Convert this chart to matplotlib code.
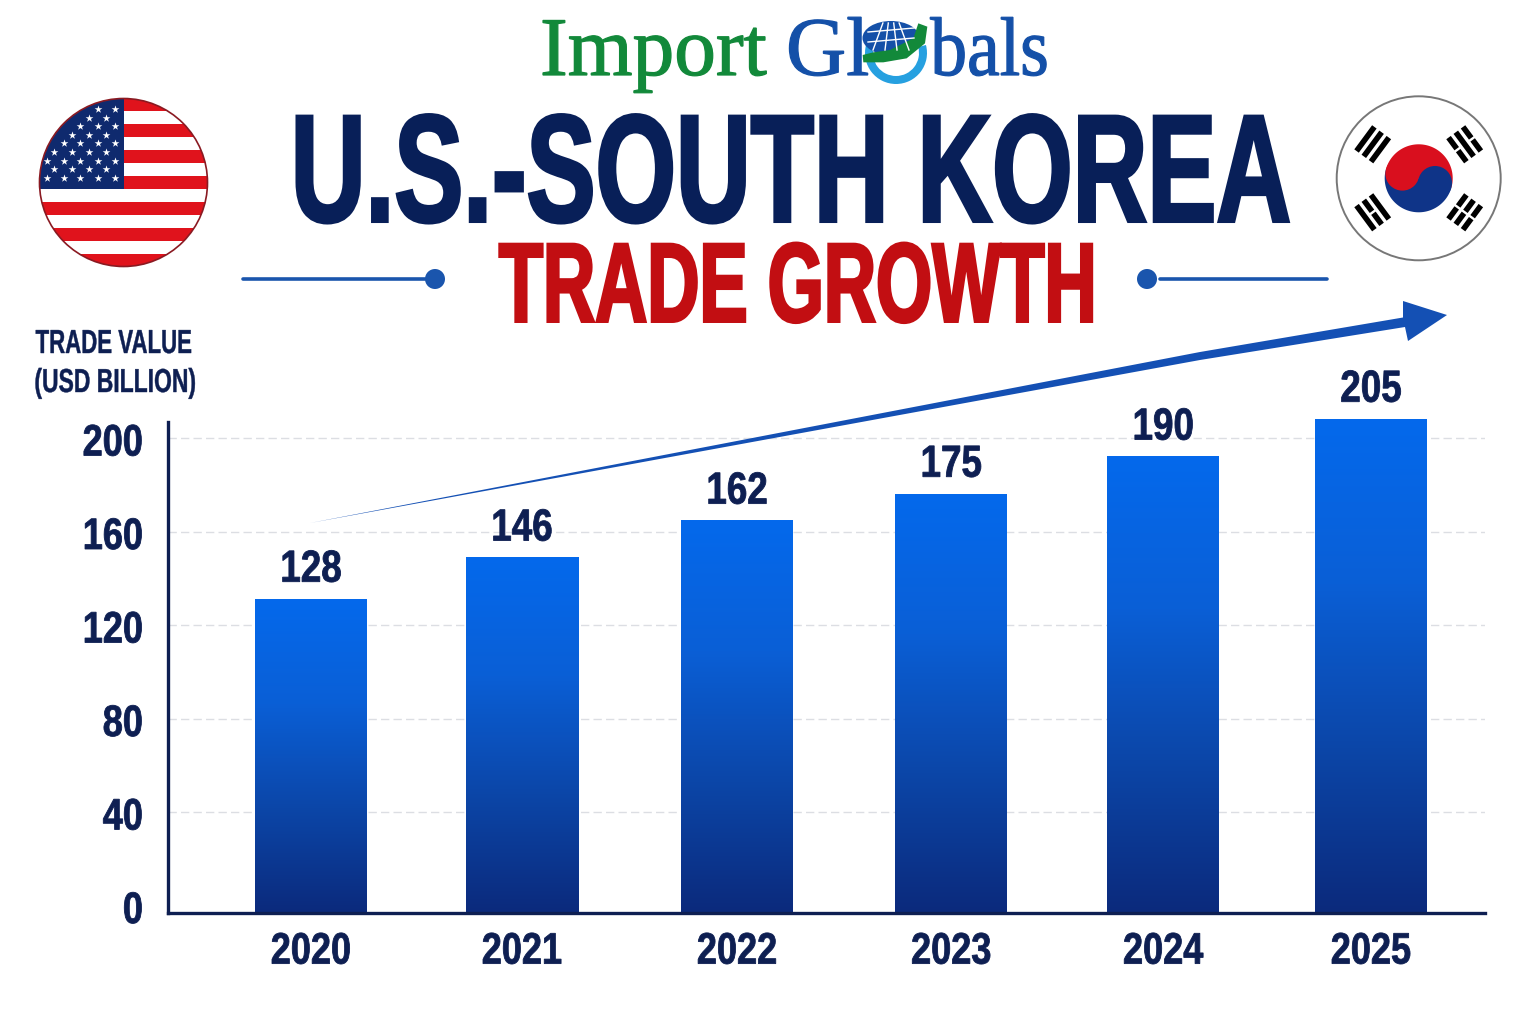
import numpy as np
import matplotlib
matplotlib.use("Agg")
import matplotlib.pyplot as plt
from matplotlib.patches import Circle, Ellipse, Polygon, Rectangle, Wedge
from matplotlib.patheffects import AbstractPathEffect
from matplotlib.transforms import Affine2D, ScaledTranslation
from matplotlib.colors import LinearSegmentedColormap

# ---- data ----
years = ["2020", "2021", "2022", "2023", "2024", "2025"]
bar_heights = [131.1, 148.7, 164.5, 176, 191.9, 208.1]     # bar tops as read against the y axis
value_labels = ["128", "146", "162", "175", "190", "205"]  # printed labels
y_ticks = [0, 40, 80, 120, 160, 200]

# ---- style ----
NAVY = "#0e1f52"
TITLE = "#081f58"
RED = "#c20e12"
LINE = "#1a55ad"
COND = ["Liberation Sans"]
W, H = 1537, 1023
bar_x = [0, 0.995, 2.01, 3.02, 4.02, 5.0]


class Stretch(AbstractPathEffect):
    """Condense text: stretch glyphs upward from the baseline, optionally embolden."""
    def __init__(self, sy=1.0, lw=0.0):
        super().__init__()
        self.sy, self.lw = sy, lw

    def draw_path(self, renderer, gc, tpath, affine, rgbFace=None):
        ox, oy = affine.transform_point((0, 0))
        t = affine + Affine2D().translate(-ox, -oy).scale(1, self.sy).translate(ox, oy)
        g = renderer.new_gc()
        g.copy_properties(gc)
        g.set_joinstyle("miter")
        if self.lw:
            g.set_linewidth(self.lw)
            g.set_foreground(rgbFace)
        else:
            g.set_linewidth(0)
        renderer.draw_path(g, tpath, t, rgbFace)
        g.restore()


fig = plt.figure(figsize=(W / 100, H / 100), dpi=100, facecolor="white")

# ---- chart axes ----
L, R, B, T = 168, 1485, 913, 417
ZERO_PX, px = 905.5, 2.3375
ybase = -(B - ZERO_PX) / px
ytop = ybase + (B - T) / px
ax = fig.add_axes([L / W, 1 - B / H, (R - L) / W, (B - T) / H])
ax.set_facecolor("none")
for s in ("top", "right"):
    ax.spines[s].set_visible(False)
for s in ("left", "bottom"):
    ax.spines[s].set_color(NAVY)
    ax.spines[s].set_linewidth(2.4)
ax.spines["left"].set_bounds(ybase, ybase + (B - 422) / px)
ax.set_yticks(y_ticks)
ax.set_xticks(bar_x)
ax.set_xticklabels(years)
ax.set_ylim(ybase, ytop)
ax.tick_params(length=0)
ax.tick_params(axis="y", pad=18)
ax.tick_params(axis="x", pad=17)
shift = ScaledTranslation(0, -4 / 100, fig.dpi_scale_trans)
for lab in ax.get_xticklabels() + ax.get_yticklabels():
    lab.set_family(COND)
    lab.set_weight("bold")
    lab.set_size(26)
    lab.set_color(NAVY)
    lab.set_path_effects([Stretch(1.22, 0.6)])
for lab in ax.get_yticklabels():
    lab.set_transform(lab.get_transform() + shift)
ax.yaxis.grid(True, color="#dcdee3", lw=1, ls=(0, (6, 3)))
ax.yaxis.get_gridlines()[0].set_visible(False)
ax.set_axisbelow(True)

cmap = LinearSegmentedColormap.from_list("b", ["#0b2a7c", "#0c46a8", "#0a5fd6", "#0469ec"])
grad = np.linspace(1, 0, 256).reshape(-1, 1)
tops = [v - ybase for v in bar_heights]
bars = ax.bar(bar_x, tops, bottom=ybase, width=112 / 212, color="none", clip_on=False)
for rect, hgt, txt in zip(bars, bar_heights, value_labels):
    x0 = rect.get_x()
    ax.imshow(grad, cmap=cmap, aspect="auto", vmin=0, vmax=1,
              extent=(x0, x0 + rect.get_width(), ybase, hgt), zorder=2, clip_on=False)
    t_ = ax.annotate(txt, (x0 + rect.get_width() / 2, hgt), xytext=(0, 12.5),
                     textcoords="offset points", ha="center", va="baseline",
                     family=COND, weight="bold", size=26.5, color=NAVY, annotation_clip=False)
    t_.set_path_effects([Stretch(1.22, 0.6)])
ax.set_xlim((L - 311) / 212, (R - 311) / 212)
ax.set_ylim(ybase, ytop)

# ---- overlay in pixel coordinates ----
ov = fig.add_axes([0, 0, 1, 1], zorder=5)
ov.set_xlim(0, W)
ov.set_ylim(H, 0)
ov.axis("off")


def stext(x, y, s, size, color, sy=1.0, lw=0.0):
    t = ov.text(x, y, s, ha="center", va="baseline", size=size, color=color,
                weight="bold", family=COND)
    t.set_path_effects([Stretch(sy, lw)])
    return t


stext(791, 221.5, "U.S.-SOUTH KOREA", 74.5, TITLE, sy=1.48, lw=2.2)
stext(798, 321.6, "TRADE GROWTH", 52, RED, sy=1.56, lw=2.0)
stext(114, 353, "TRADE VALUE", 16, NAVY, sy=1.5, lw=0.3)
stext(115, 392, "(USD BILLION)", 16.5, NAVY, sy=1.45, lw=0.3)

# logo
GREEN, LOGO = "#12893a", "#1450a8"
for x_, s_, c_ in ((540, "Import", GREEN), (786, "Gl", LOGO)):
    t = ov.text(x_, 75, s_, size=60, color=c_, family="Liberation Serif", ha="left", va="baseline")
    t.set_path_effects([Stretch(1.0, 0.9)])
t = ov.text(1049, 75, "bals", size=53, color=LOGO, family="Liberation Serif", ha="right", va="baseline")
t.set_path_effects([Stretch(1.13, 0.9)])
ov.add_patch(Wedge((896, 53), 31, -15, 195, width=8, fc="#26a0e0", ec="none"))
ov.add_patch(Ellipse((891, 38), 57, 34, fc=LOGO, ec="none"))
for dx in (-18, -6, 6, 18):
    ov.plot([891 + dx * .45, 891 + dx], [23, 50], color="white", lw=1)
for yy in (30, 40):
    ov.plot([868, 914], [yy + 2, yy - 2], color="white", lw=1)
swoosh = [(68, 150), (100, 142), (150, 135), (220, 100), (235, 55), (262, 65), (255, 115),
          (200, 160), (130, 172), (70, 172)]
ov.add_patch(Polygon([(840 + a / 3, 5 + b / 3) for a, b in swoosh], fc=GREEN, ec="none"))

# divider lines
ov.plot([243, 425], [279, 279], color=LINE, lw=2.6, solid_capstyle="round")
ov.plot([1160, 1327], [279, 279], color=LINE, lw=2.6, solid_capstyle="round")
ov.add_patch(Circle((435, 279), 10, fc=LINE, ec="none"))
ov.add_patch(Circle((1147, 279), 10, fc=LINE, ec="none"))

# trend arrow
ov.add_patch(Polygon([(310, 523), (1200, 352), (1403, 317.5), (1403, 301), (1447, 315),
                      (1408, 341), (1405, 327), (1200, 360)],
                     fc="#1450b4", ec="none", zorder=6))

# US flag
cx, cy, r = 123.5, 182.5, 84
clip = Circle((cx, cy), r, transform=ov.transData)
h = 2 * r / 13
for i in range(13):
    c = "#e0131c" if i % 2 == 0 else "white"
    ov.add_patch(Rectangle((cx - r, cy - r + i * h), 2 * r, h, fc=c, ec="none", clip_path=clip))
ov.add_patch(Rectangle((cx - r, cy - r), r, 7 * h, fc="#0f2a6e", ec="none", clip_path=clip))
sx_, sy_ = [], []
for i in range(9):
    ypos = 109 + i * 8.6
    xs = [46.5, 63.5, 80, 97.5, 114.5] if i % 2 == 0 else [54, 71.5, 88.5, 105.5]
    for xx in xs:
        if (xx - cx) ** 2 + (ypos - cy) ** 2 < (r - 3) ** 2:
            sx_.append(xx)
            sy_.append(ypos)
ov.scatter(sx_, sy_, marker="*", s=34, c="white", linewidths=0, zorder=3)
ov.add_patch(Circle((cx, cy), r, fc="none", ec="#8a1a22", lw=1.2, zorder=3))

# Korean flag
kx, ky, kr = 1418.7, 178.3, 82
ov.add_patch(Circle((kx, ky), kr, fc="white", ec="#777777", lw=1.4))
tr, tilt = 34, np.radians(16)
u = np.array([np.cos(tilt), np.sin(tilt)])


def half(sign):
    a = np.linspace(0, np.pi, 100)
    pts = np.column_stack([tr * np.cos(a), sign * tr * np.sin(a)])
    c, s = np.cos(tilt), np.sin(tilt)
    return np.column_stack([kx + pts[:, 0] * c - pts[:, 1] * s, ky + pts[:, 0] * s + pts[:, 1] * c])


ov.add_patch(Polygon(half(-1), fc="#d90f1e", ec="none", zorder=3))
ov.add_patch(Polygon(half(1), fc="#0f3488", ec="none", zorder=3))
ov.add_patch(Circle((kx - u[0] * tr / 2, ky - u[1] * tr / 2), tr / 2, fc="#d90f1e", ec="none", zorder=4))
ov.add_patch(Circle((kx + u[0] * tr / 2, ky + u[1] * tr / 2), tr / 2, fc="#0f3488", ec="none", zorder=4))


def trigram(dx, dy, pattern):
    n = np.array([dx, dy], float)
    n /= np.linalg.norm(n)
    tv = np.array([-n[1], n[0]])
    c0 = np.array([kx + dx, ky + dy])
    bw, bl, step = 5.6, 30, 9.0
    for k, broken in zip((-1, 0, 1), pattern):
        mid = c0 + n * k * step
        segs = [(-bl / 2, -1.2), (1.2, bl / 2)] if broken else [(-bl / 2, bl / 2)]
        for a, b in segs:
            p = [mid + tv * a + n * bw / 2, mid + tv * b + n * bw / 2,
                 mid + tv * b - n * bw / 2, mid + tv * a - n * bw / 2]
            ov.add_patch(Polygon(p, fc="black", ec="none", zorder=3))


trigram(-46, -34, (0, 0, 0))
trigram(46, -34, (1, 0, 1))
trigram(-46, 34, (0, 1, 0))
trigram(46, 34, (1, 1, 1))

fig.savefig("out.png", dpi=100, facecolor="white")
